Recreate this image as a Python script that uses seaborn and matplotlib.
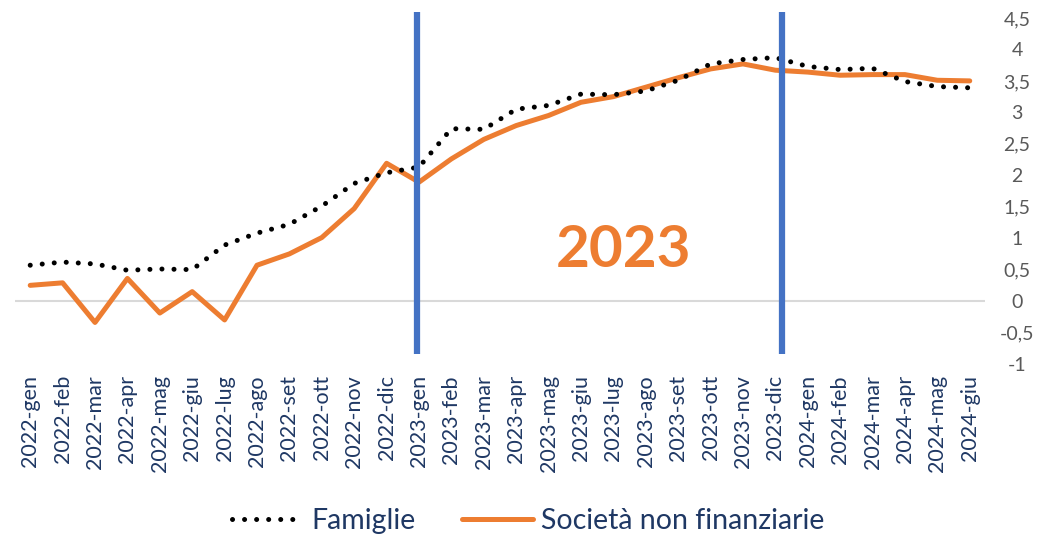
import matplotlib
matplotlib.use("Agg")  # headless
import matplotlib.pyplot as plt
import seaborn as sns
import pandas as pd
import numpy as np

# Dati (variazioni %, mensili)
mesi = ["2022-gen", "2022-feb", "2022-mar", "2022-apr", "2022-mag", "2022-giu",
        "2022-lug", "2022-ago", "2022-set", "2022-ott", "2022-nov", "2022-dic",
        "2023-gen", "2023-feb", "2023-mar", "2023-apr", "2023-mag", "2023-giu",
        "2023-lug", "2023-ago", "2023-set", "2023-ott", "2023-nov", "2023-dic",
        "2024-gen", "2024-feb", "2024-mar", "2024-apr", "2024-mag", "2024-giu"]
famiglie = [0.57, 0.62, 0.59, 0.49, 0.51, 0.50, 0.89, 1.08, 1.22, 1.51, 1.87, 2.04,
            2.13, 2.74, 2.73, 3.05, 3.11, 3.29, 3.28, 3.34, 3.51, 3.77, 3.84, 3.87,
            3.73, 3.68, 3.70, 3.49, 3.41, 3.39]
societa = [0.25, 0.29, -0.34, 0.36, -0.19, 0.15, -0.30, 0.57, 0.75, 1.01, 1.47, 2.19,
           1.89, 2.26, 2.57, 2.79, 2.95, 3.16, 3.25, 3.40, 3.55, 3.69, 3.77, 3.67,
           3.64, 3.59, 3.60, 3.60, 3.51, 3.50]
anni_evidenziati = [11.93, 23.2]  # posizione delle barre verticali blu
y_ticks = [-1, -0.5, 0, 0.5, 1, 1.5, 2, 2.5, 3, 3.5, 4, 4.5]

df = pd.DataFrame({"pos": np.arange(len(mesi)), "mese": mesi,
                   "Famiglie": famiglie, "Società non finanziarie": societa})

sns.set_style("white")
plt.rcParams["font.family"] = ["Lato", "DejaVu Sans"]

ORANGE = "#ED7D31"
BLUE = "#4472C4"
NAVY = "#1F3864"
GREY = "#595959"

fig = plt.figure(figsize=(10.63, 5.37), dpi=100)
ax = fig.add_axes([0.0141, 0.3222, 0.9125, 0.6443])

ax.axhline(0, color="#d9d9d9", lw=1.5, zorder=1)

sns.lineplot(data=df, x="pos", y="Famiglie", ax=ax, color="black", lw=3.6,
             label="Famiglie", zorder=3)
sns.lineplot(data=df, x="pos", y="Società non finanziarie", ax=ax, color=ORANGE,
             lw=3.6, label="Società non finanziarie", zorder=2)
fam_line = ax.lines[1]
fam_line.set_dashes((0.01, 2.4))
fam_line.set_dash_capstyle("round")
ax.lines[2].set_solid_capstyle("round")

for xv in anni_evidenziati:
    ax.plot([xv, xv], [4.59, -0.84], color=BLUE, lw=4.5, clip_on=False,
            solid_capstyle="butt", zorder=4)

ax.text(18.3, 0.81, "2023", color=ORANGE, fontsize=42, fontweight="bold",
        ha="center", va="center")

ax.set_xlim(-0.47, 29.47)
ax.set_ylim(-1, 4.5)
ax.set_xticks(df["pos"])
ax.set_xticklabels(mesi, rotation=90, color=NAVY, fontsize=15.5)
ax.set_yticks(y_ticks)
ax.set_yticklabels([f"{v:g}".replace(".", ",") for v in y_ticks], color=GREY,
                   fontsize=14)
ax.yaxis.tick_right()
for lab in ax.get_yticklabels():
    lab.set_horizontalalignment("center")
ax.tick_params(axis="y", length=0, pad=23)
ax.tick_params(axis="x", length=0, pad=8)
ax.set_xlabel("")
ax.set_ylabel("")
sns.despine(ax=ax, left=True, bottom=True, right=True, top=True)

handles, labels = ax.get_legend_handles_labels()
ax.get_legend().remove()
leg = fig.legend(handles, labels, loc="center", bbox_to_anchor=(0.497, 0.030),
                 ncol=2, frameon=False, fontsize=20.5, handlelength=2.5,
                 columnspacing=1.6, handletextpad=0.3)
for t in leg.get_texts():
    t.set_color(NAVY)

fig.savefig("out.png", dpi=100)
